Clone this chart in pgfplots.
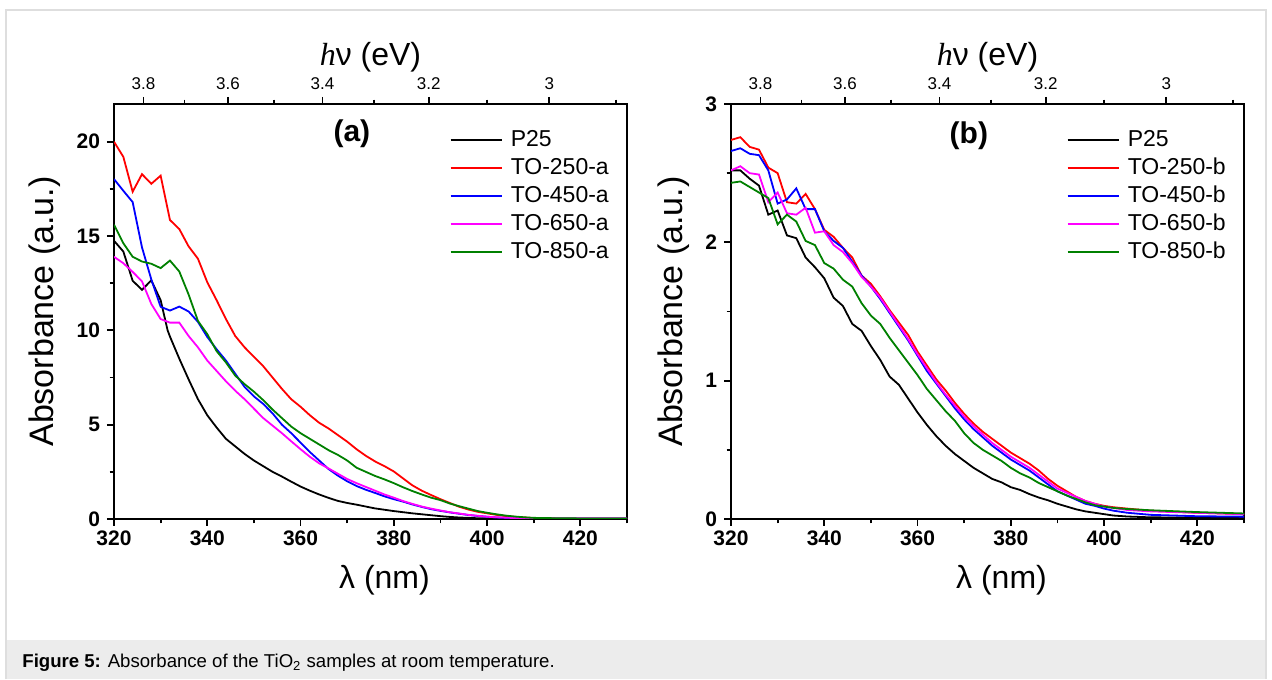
\documentclass[border=0pt]{standalone}
\usepackage{fontspec}
\setmainfont{Liberation Sans}
\newfontfamily\serif{Liberation Serif}
\usepackage{pgfplots}
\pgfplotsset{compat=1.18}

\definecolor{ogreen}{RGB}{0,128,0}
\definecolor{omag}{RGB}{255,0,255}
\definecolor{capgray}{RGB}{236,236,236}
\definecolor{boxgray}{RGB}{222,222,222}

\pgfplotsset{
  panel/.style={
    scale only axis, width=256.5pt, height=207.5pt,
    xmin=320, xmax=430,
    xtick={320,340,...,420}, minor xtick={330,350,...,430},
    tick align=outside, xtick pos=left, ytick pos=left,
    major tick length=3.5pt, minor tick length=2.2pt,
    tick style={line width=0.9pt, black},
    axis line style={line width=0.9pt},
    ticklabel style={font=\fontsize{10.5}{12}\selectfont\bfseries},
    xticklabel style={yshift=1pt},
    /pgf/number format/assume math mode=true,
    xlabel={λ (nm)}, ylabel={Absorbance (a.u.)},
    ylabel style={font=\fontsize{17}{19}\selectfont, yshift=1pt},
    xlabel style={font=\fontsize{16}{18}\selectfont, xshift=7pt, yshift=-3pt},
    legend style={draw=none, fill=none, font=\fontsize{11.5}{13}\selectfont,
      legend cell align=left, anchor=north west, at={(0.642,0.955)},
      nodes={inner sep=1pt, text height=8.5pt, text depth=2.5pt}, row sep=1pt,
      /tikz/every odd column/.append style={column sep=3pt}},
    legend image post style={xscale=1.5},
    every axis plot/.append style={line width=0.9pt},
  },
  toppanel/.style={
    scale only axis, width=256.5pt, height=207.5pt,
    xmin=320, xmax=430, ymin=0, ymax=1,
    axis x line*=top, axis y line=none,
    xtick={326.316,344.444,364.706,387.5,413.333},
    xticklabels={3.8,3.6,3.4,3.2,3},
    minor xtick={335.135,354.286,375.758,400,427.586},
    xtick align=outside,
    major tick length=3.5pt, minor tick length=2.2pt,
    tick style={line width=0.9pt, black},
    axis line style={line width=0.9pt},
    ticklabel style={font=\fontsize{8.5}{10}\selectfont},
    xlabel={{\serif\itshape h}ν (eV)},
    xlabel style={font=\fontsize{16}{18}\selectfont, yshift=-4pt},
  },
}

\begin{document}
\begin{tikzpicture}
\path[use as bounding box] (0,0) rectangle (636pt,339.5pt);
\fill[capgray] (3pt,0) rectangle (633pt,19.5pt);
\draw[boxgray, line width=0.6pt] (3pt,0) -- (3pt,334.5pt) -- (633pt,334.5pt) -- (633pt,0);
\node[anchor=base west, font=\fontsize{9.3}{11}\selectfont, inner sep=0pt] at (11pt,5.5pt)
  {\textbf{Figure 5:} Absorbance of the TiO\textsubscript{2} samples at room temperature.};

% panel (a)
\begin{axis}[panel, at={(57pt,80pt)}, anchor=south west, ymin=0, ymax=22,
  ytick={0,5,10,15,20}, minor ytick={2.5,7.5,12.5,17.5}]
\addplot[black] coordinates {(320,14.75)(322,14.18)(324,12.63)(326,12.15)(328,12.65)(330,11.6)(331.5,10.0)(332,9.67)(334,8.5)(336,7.4)(338,6.35)(340,5.5)(342,4.85)(344,4.25)(346,3.85)(348,3.45)(350,3.1)(352,2.8)(354,2.5)(356,2.25)(358,1.98)(360,1.72)(362,1.5)(364,1.3)(366,1.12)(368,0.96)(370,0.85)(372,0.76)(374,0.66)(376,0.56)(378,0.49)(380,0.42)(382,0.36)(384,0.30)(386,0.25)(388,0.20)(390,0.15)(392,0.11)(394,0.08)(396,0.06)(398,0.04)(400,0.03)(405,0.02)(410,0.015)(420,0.01)(430,0.01)};
\addlegendentry{P25}
\addplot[red] coordinates {(320,20.0)(322,19.2)(324,17.35)(326,18.28)(328,17.77)(330,18.2)(332,15.85)(334,15.37)(336,14.45)(338,13.8)(340,12.55)(342,11.6)(344,10.6)(346,9.7)(348,9.1)(350,8.6)(352,8.1)(354,7.5)(356,6.9)(358,6.35)(360,5.95)(362,5.5)(364,5.1)(366,4.8)(368,4.45)(370,4.1)(372,3.7)(374,3.35)(376,3.05)(378,2.8)(380,2.52)(382,2.15)(384,1.78)(386,1.5)(388,1.27)(390,1.05)(392,0.85)(394,0.65)(396,0.5)(398,0.38)(400,0.3)(402,0.22)(404,0.15)(406,0.11)(408,0.08)(410,0.05)(415,0.03)(420,0.02)(430,0.02)};
\addlegendentry{TO-250-a}
\addplot[blue] coordinates {(320,18.02)(322,17.4)(324,16.8)(326,14.4)(328,12.7)(330,11.25)(332,11.05)(334,11.26)(336,11.0)(338,10.45)(340,9.65)(342,9.0)(344,8.4)(346,7.7)(348,7.0)(350,6.5)(352,6.1)(354,5.6)(356,5.0)(358,4.55)(360,4.05)(362,3.55)(364,3.1)(366,2.65)(368,2.3)(370,2.0)(372,1.75)(374,1.55)(376,1.38)(378,1.2)(380,1.05)(382,0.92)(384,0.77)(386,0.64)(388,0.52)(390,0.43)(392,0.35)(394,0.28)(396,0.21)(398,0.16)(400,0.12)(402,0.08)(404,0.06)(406,0.05)(410,0.03)(420,0.02)(430,0.02)};
\addlegendentry{TO-450-a}
\addplot[omag] coordinates {(320,13.9)(322,13.56)(324,13.1)(326,12.6)(328,11.4)(330,10.6)(332,10.41)(334,10.41)(336,9.7)(338,9.1)(340,8.4)(342,7.85)(344,7.3)(346,6.8)(348,6.35)(350,5.85)(352,5.35)(354,4.95)(356,4.55)(358,4.12)(360,3.7)(362,3.3)(364,2.95)(366,2.68)(368,2.4)(370,2.12)(372,1.9)(374,1.7)(376,1.5)(378,1.3)(380,1.13)(382,0.95)(384,0.8)(386,0.66)(388,0.55)(390,0.45)(392,0.36)(394,0.29)(396,0.22)(398,0.17)(400,0.12)(402,0.09)(404,0.07)(406,0.05)(410,0.03)(420,0.02)(430,0.02)};
\addlegendentry{TO-650-a}
\addplot[ogreen] coordinates {(320,15.6)(322,14.62)(324,13.9)(326,13.65)(328,13.53)(330,13.3)(332,13.7)(334,13.12)(336,11.9)(338,10.5)(340,9.8)(342,8.9)(344,8.3)(346,7.6)(348,7.15)(350,6.75)(352,6.3)(354,5.8)(356,5.35)(358,4.9)(360,4.55)(362,4.25)(364,3.95)(366,3.65)(368,3.4)(370,3.1)(372,2.72)(374,2.5)(376,2.28)(378,2.1)(380,1.9)(382,1.68)(384,1.48)(386,1.3)(388,1.13)(390,1.0)(392,0.82)(394,0.68)(396,0.55)(398,0.42)(400,0.33)(402,0.25)(404,0.18)(406,0.13)(408,0.09)(410,0.06)(415,0.04)(420,0.03)(430,0.03)};
\addlegendentry{TO-850-a}
\node[font=\fontsize{15}{17}\selectfont\bfseries] at (axis cs:371,20.4) {(a)};
\end{axis}
\begin{axis}[toppanel, at={(57pt,80pt)}, anchor=south west]
\end{axis}

% panel (b)
\begin{axis}[panel, at={(365.5pt,80pt)}, anchor=south west, ymin=0, ymax=3,
  ytick={0,1,2,3}, minor ytick={0.5,1.5,2.5}]
\addplot[black] coordinates {(320,2.52)(322,2.52)(324,2.46)(326,2.41)(328,2.2)(330,2.23)(332,2.05)(334,2.03)(336,1.89)(338,1.82)(340,1.74)(342,1.6)(344,1.54)(346,1.41)(348,1.36)(350,1.25)(352,1.15)(354,1.03)(356,0.97)(358,0.87)(360,0.77)(362,0.68)(364,0.6)(366,0.53)(368,0.47)(370,0.42)(372,0.37)(374,0.33)(376,0.29)(378,0.265)(380,0.23)(382,0.21)(384,0.18)(386,0.155)(388,0.135)(390,0.11)(392,0.09)(394,0.07)(396,0.055)(398,0.045)(400,0.035)(402,0.025)(405,0.018)(410,0.012)(420,0.01)(430,0.01)};
\addlegendentry{P25}
\addplot[red] coordinates {(320,2.74)(322,2.76)(324,2.69)(326,2.67)(328,2.54)(330,2.5)(332,2.29)(334,2.28)(336,2.35)(338,2.24)(340,2.09)(342,2.04)(344,1.96)(346,1.89)(348,1.76)(350,1.7)(352,1.61)(354,1.51)(356,1.42)(358,1.33)(360,1.21)(362,1.11)(364,1.01)(366,0.93)(368,0.84)(370,0.76)(372,0.69)(374,0.63)(376,0.58)(378,0.53)(380,0.48)(382,0.44)(384,0.4)(386,0.35)(388,0.29)(390,0.24)(392,0.2)(394,0.16)(396,0.13)(398,0.11)(400,0.095)(402,0.085)(405,0.075)(410,0.06)(420,0.045)(430,0.035)};
\addlegendentry{TO-250-b}
\addplot[blue] coordinates {(320,2.66)(322,2.68)(324,2.64)(326,2.63)(328,2.52)(330,2.28)(332,2.31)(334,2.39)(336,2.24)(338,2.24)(340,2.08)(342,2.01)(344,1.96)(346,1.86)(348,1.76)(350,1.68)(352,1.59)(354,1.49)(356,1.39)(358,1.29)(360,1.18)(362,1.07)(364,0.98)(366,0.89)(368,0.8)(370,0.72)(372,0.65)(374,0.59)(376,0.53)(378,0.48)(380,0.43)(382,0.39)(384,0.35)(386,0.3)(388,0.25)(390,0.2)(392,0.17)(394,0.14)(396,0.11)(398,0.095)(400,0.075)(402,0.06)(405,0.045)(410,0.03)(420,0.02)(430,0.017)};
\addlegendentry{TO-450-b}
\addplot[omag] coordinates {(320,2.52)(322,2.55)(324,2.5)(326,2.49)(328,2.29)(330,2.36)(332,2.21)(334,2.2)(336,2.25)(338,2.07)(340,2.08)(342,1.98)(344,1.93)(346,1.85)(348,1.75)(350,1.68)(352,1.6)(354,1.5)(356,1.4)(358,1.3)(360,1.19)(362,1.09)(364,0.99)(366,0.9)(368,0.82)(370,0.74)(372,0.67)(374,0.61)(376,0.55)(378,0.5)(380,0.45)(382,0.41)(384,0.37)(386,0.32)(388,0.27)(390,0.22)(392,0.19)(394,0.16)(396,0.13)(398,0.11)(400,0.09)(402,0.08)(405,0.065)(410,0.055)(420,0.045)(430,0.035)};
\addlegendentry{TO-650-b}
\addplot[ogreen] coordinates {(320,2.43)(322,2.44)(324,2.4)(326,2.36)(328,2.32)(330,2.13)(332,2.2)(334,2.15)(336,2.01)(338,1.98)(340,1.85)(342,1.81)(344,1.73)(346,1.68)(348,1.56)(350,1.47)(352,1.41)(354,1.31)(356,1.22)(358,1.13)(360,1.04)(362,0.94)(364,0.86)(366,0.78)(368,0.71)(370,0.62)(372,0.55)(374,0.5)(376,0.46)(378,0.42)(380,0.37)(382,0.33)(384,0.3)(386,0.26)(388,0.23)(390,0.2)(392,0.17)(394,0.145)(396,0.12)(398,0.1)(400,0.09)(402,0.08)(405,0.072)(410,0.063)(420,0.05)(430,0.04)};
\addlegendentry{TO-850-b}
\node[font=\fontsize{15}{17}\selectfont\bfseries] at (axis cs:371,2.77) {(b)};
\end{axis}
\begin{axis}[toppanel, at={(365.5pt,80pt)}, anchor=south west]
\end{axis}
\end{tikzpicture}
\end{document}
